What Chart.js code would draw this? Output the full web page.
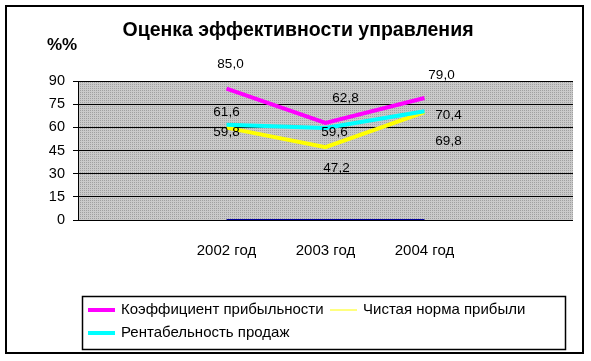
<!DOCTYPE html>
<html>
<head>
<meta charset="utf-8">
<script src="https://cdn.jsdelivr.net/npm/chart.js@4/dist/chart.umd.min.js"></script>
<style>
  html, body { margin: 0; padding: 0; background: #fff; }
  #wrap { width: 591px; height: 361px; }
</style>
</head>
<body>
<div id="wrap"><canvas id="effChart" width="591" height="361"></canvas></div>
<script>
// Data
const years = ['2002 год', '2003 год', '2004 год'];
const koefPribyl = [85.0, 62.8, 79.0];     // Коэффициент прибыльности
const chistayaNorma = [59.8, 47.2, 69.8];  // Чистая норма прибыли
const rentabProdazh = [61.6, 59.6, 70.4];  // Рентабельность продаж
const baseLine = [0, 0, 0];                // thin blue line on the zero axis
const yTicks = [0, 15, 30, 45, 60, 75, 90];

const FONT = 'Arial, "Liberation Sans", sans-serif';

// Excel-like chart leaves an empty slot at each side of the three years
const labels = [''].concat(years, ['']);
function pad(arr) { return [null].concat(arr, [null]); }

// label offsets (dx, dy) per dataset, relative to the point
const labelOffsets = {
    koef: [[4, -24], [20, -25], [17, -23]],
    rentab: [[0, -13], [9, 4], [24, 4]],
    chistaya: [[0, 5], [11, 21], [24, 29]]
};

function fmt(v) {
    return v.toFixed(1).replace('.', ',');
}

// dotted gray fill of the plot area
function makePattern(ctx) {
    const c = document.createElement('canvas');
    c.width = 2; c.height = 2;
    const p = c.getContext('2d');
    p.fillStyle = '#cacaca';
    p.fillRect(0, 0, 2, 2);
    p.fillStyle = '#a0a0a0';
    p.fillRect(0, 0, 1, 1);
    return ctx.createPattern(c, 'repeat');
}

const excelLook = {
    id: 'excelLook',
    beforeDraw(chart) {
        const ctx = chart.ctx;
        const a = chart.chartArea;
        ctx.save();
        ctx.fillStyle = '#ffffff';
        ctx.fillRect(0, 0, chart.width, chart.height);
        // outer frame
        ctx.strokeStyle = '#000';
        ctx.lineWidth = 2;
        ctx.strokeRect(6, 6, 577, 347);
        // plot area
        ctx.fillStyle = makePattern(ctx);
        ctx.fillRect(a.left, a.top, a.right - a.left, a.bottom - a.top);
        // title
        ctx.fillStyle = '#000';
        ctx.font = 'bold 19.5px ' + FONT;
        ctx.textAlign = 'center';
        ctx.textBaseline = 'middle';
        ctx.fillText('Оценка эффективности управления', 298, 31);
        ctx.font = 'bold 17px ' + FONT;
        ctx.textAlign = 'left';
        ctx.fillText('%%', 47, 45);
        ctx.restore();
    },
    afterDatasetsDraw(chart) {
        const ctx = chart.ctx;
        ctx.save();
        ctx.font = '13.5px ' + FONT;
        ctx.fillStyle = '#000';
        ctx.textAlign = 'center';
        ctx.textBaseline = 'middle';
        chart.data.datasets.forEach((ds, i) => {
            const offs = labelOffsets[ds.key];
            if (!offs) return;
            const meta = chart.getDatasetMeta(i);
            let k = 0;
            meta.data.forEach((pt, j) => {
                const v = ds.data[j];
                if (v === null) return;
                const o = offs[k++];
                ctx.fillText(fmt(v), pt.x + o[0], pt.y + o[1]);
            });
        });
        ctx.restore();
    },
    afterDraw(chart) {
        const ctx = chart.ctx;
        ctx.save();
        // legend box
        ctx.strokeStyle = '#000';
        ctx.lineWidth = 1.5;
        ctx.strokeRect(82.5, 296.5, 483, 53);
        ctx.font = '15px ' + FONT;
        ctx.textBaseline = 'middle';
        ctx.fillStyle = '#000';
        const items = [
            { key: 'koef', x: 88, y: 310 },
            { key: 'chistaya', x: 330, y: 310 },
            { key: 'rentab', x: 88, y: 333 }
        ];
        items.forEach(it => {
            const ds = chart.data.datasets.find(d => d.key === it.key);
            ctx.strokeStyle = ds.borderColor;
            ctx.lineWidth = ds.legendWidth;
            ctx.beginPath();
            ctx.moveTo(it.x, it.y);
            ctx.lineTo(it.x + 27, it.y);
            ctx.stroke();
            ctx.fillText(ds.label, it.x + 33, it.y);
        });
        ctx.restore();
    }
};

const ctx = document.getElementById('effChart').getContext('2d');
new Chart(ctx, {
    type: 'line',
    data: {
        labels: labels,
        datasets: [
            {
                key: 'koef',
                label: 'Коэффициент прибыльности',
                data: pad(koefPribyl),
                borderColor: '#ff00ff',
                borderWidth: 4,
                legendWidth: 4,
                order: 0
            },
            {
                key: 'chistaya',
                label: 'Чистая норма прибыли',
                data: pad(chistayaNorma),
                borderColor: '#ffff00',
                borderWidth: 4,
                legendWidth: 1,
                order: 2
            },
            {
                key: 'rentab',
                label: 'Рентабельность продаж',
                data: pad(rentabProdazh),
                borderColor: '#00ffff',
                borderWidth: 4,
                legendWidth: 4,
                order: 1
            },
            {
                key: 'base',
                label: '',
                data: pad(baseLine),
                borderColor: '#000099',
                borderWidth: 2,
                order: 3
            }
        ]
    },
    options: {
        responsive: false,
        animation: false,
        devicePixelRatio: 1,
        layout: { padding: { left: 0, top: 81, right: 18, bottom: 0 } },
        elements: {
            point: { radius: 0, hoverRadius: 0 },
            line: { tension: 0, borderCapStyle: 'butt' }
        },
        plugins: {
            legend: { display: false },
            title: { display: false },
            tooltip: { enabled: false }
        },
        scales: {
            x: {
                type: 'category',
                offset: true,
                grid: { display: false },
                border: { display: false },
                ticks: {
                    autoSkip: false,
                    maxRotation: 0,
                    color: '#000',
                    padding: 14,
                    font: { family: FONT, size: 15 }
                },
                afterFit(scale) { scale.height = 141; }
            },
            y: {
                min: 0,
                max: 90,
                afterBuildTicks(scale) {
                    scale.ticks = yTicks.map(v => ({ value: v }));
                },
                grid: {
                    color: '#000',
                    lineWidth: 1,
                    tickLength: 5
                },
                border: { display: true, color: '#000', width: 1 },
                ticks: {
                    color: '#000',
                    padding: 8,
                    font: { family: FONT, size: 14.5 }
                },
                afterFit(scale) { scale.width = 78; }
            }
        }
    },
    plugins: [excelLook]
});
</script>
</body>
</html>
